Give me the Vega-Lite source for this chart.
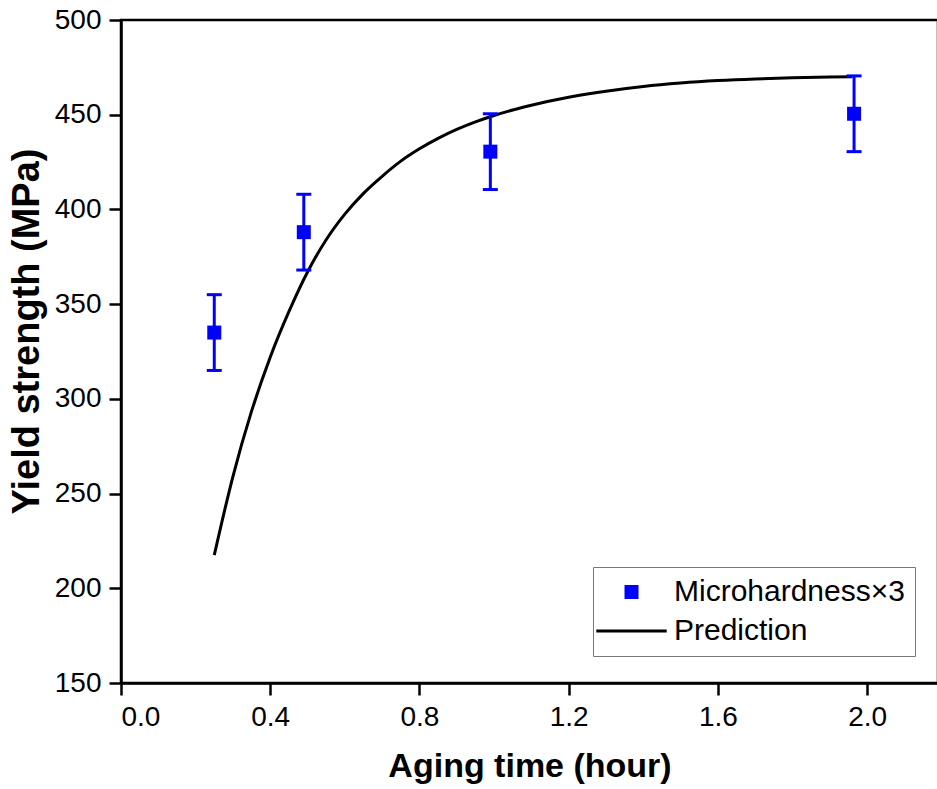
{
  "$schema": "https://vega.github.io/schema/vega-lite/v6.json",
  "autosize": {"type": "none"},
  "padding": {"left": 121, "top": 20, "right": 0, "bottom": 106},
  "width": 817,
  "height": 663,
  "background": "white",
  "config": {
    "view": {"stroke": "black", "strokeWidth": 2.5},
    "axis": {
      "grid": false,
      "labelFont": "Liberation Sans",
      "labelFontSize": 28,
      "labelColor": "black",
      "domainColor": "black",
      "domainWidth": 2.5,
      "tickColor": "black",
      "tickWidth": 2.5,
      "tickSize": 12,
      "labelPadding": 8,
      "titleFont": "Liberation Sans",
      "titleFontWeight": "bold",
      "titleColor": "black"
    },
    "legend": {
      "labelFont": "Liberation Sans",
      "labelFontSize": 30,
      "labelColor": "black",
      "labelLimit": 500
    }
  },
  "datasets": {
    "pred": [
      {"x": 0.25, "y": 217.5, "series": "Prediction"},
      {"x": 0.30, "y": 259, "series": "Prediction"},
      {"x": 0.35, "y": 293.5, "series": "Prediction"},
      {"x": 0.40, "y": 322, "series": "Prediction"},
      {"x": 0.45, "y": 346, "series": "Prediction"},
      {"x": 0.50, "y": 367, "series": "Prediction"},
      {"x": 0.55, "y": 384, "series": "Prediction"},
      {"x": 0.60, "y": 397.5, "series": "Prediction"},
      {"x": 0.65, "y": 408.5, "series": "Prediction"},
      {"x": 0.70, "y": 417.5, "series": "Prediction"},
      {"x": 0.75, "y": 425.5, "series": "Prediction"},
      {"x": 0.80, "y": 432, "series": "Prediction"},
      {"x": 0.85, "y": 437.5, "series": "Prediction"},
      {"x": 0.90, "y": 442.2, "series": "Prediction"},
      {"x": 0.95, "y": 446.2, "series": "Prediction"},
      {"x": 1.00, "y": 449.6, "series": "Prediction"},
      {"x": 1.05, "y": 452.5, "series": "Prediction"},
      {"x": 1.10, "y": 455, "series": "Prediction"},
      {"x": 1.20, "y": 459.2, "series": "Prediction"},
      {"x": 1.30, "y": 462.4, "series": "Prediction"},
      {"x": 1.40, "y": 464.9, "series": "Prediction"},
      {"x": 1.50, "y": 466.7, "series": "Prediction"},
      {"x": 1.60, "y": 468.0, "series": "Prediction"},
      {"x": 1.70, "y": 468.9, "series": "Prediction"},
      {"x": 1.80, "y": 469.5, "series": "Prediction"},
      {"x": 1.90, "y": 469.9, "series": "Prediction"},
      {"x": 1.96, "y": 470.0, "series": "Prediction"}
    ],
    "meas": [
      {"x": 0.25, "y": 335, "lo": 315, "hi": 355, "series": "Microhardness×3"},
      {"x": 0.49, "y": 388, "lo": 368, "hi": 408, "series": "Microhardness×3"},
      {"x": 0.99, "y": 430.5, "lo": 410.5, "hi": 450.5, "series": "Microhardness×3"},
      {"x": 1.965, "y": 450.5, "lo": 430.5, "hi": 470.5, "series": "Microhardness×3"}
    ]
  },
  "encoding": {
    "x": {
      "field": "x",
      "type": "quantitative",
      "scale": {"domain": [0, 2.19], "nice": false, "zero": false},
      "axis": {"values": [0, 0.4, 0.8, 1.2, 1.6, 2.0], "format": ".1f", "title": "Aging time (hour)", "titleFontSize": 34, "titlePadding": 18}
    },
    "y": {
      "field": "y",
      "type": "quantitative",
      "scale": {"domain": [150, 500], "nice": false, "zero": false},
      "axis": {"values": [150, 200, 250, 300, 350, 400, 450, 500], "format": "d", "title": "Yield strength (MPa)", "titleFontSize": 38, "titlePadding": 8, "titleY": 311}
    }
  },
  "layer": [
    {
      "data": {"name": "pred"},
      "mark": {"type": "line", "strokeWidth": 3, "interpolate": "monotone"},
      "encoding": {
        "color": {
          "field": "series",
          "type": "nominal",
          "scale": {"domain": ["Microhardness×3", "Prediction"], "range": ["#0000ff", "#000000"]},
          "legend": {
            "title": null,
            "orient": "none",
            "legendX": 472,
            "legendY": 547,
            "strokeColor": "#777777",
            "fillColor": "white",
            "padding": 10,
            "rowPadding": 9,
            "labelOffset": 41,
            "symbolOpacity": 1,
            "encode": {
              "symbols": {
                "update": {
                  "x": {"value": 28.5},
                  "fill": {"scale": "color", "field": "value"},
                  "stroke": {"scale": "color", "field": "value"},
                  "strokeWidth": {"value": 3},
                  "size": {"value": 121},
                  "opacity": {"value": 1}
                }
              }
            }
          }
        }
      }
    },
    {
      "data": {"name": "meas"},
      "mark": {"type": "errorbar", "color": "#0000ff", "thickness": 3, "rule": {"opacity": 1}, "ticks": {"size": 15, "color": "#0000ff", "thickness": 3, "opacity": 1}},
      "encoding": {
        "y": {"field": "lo", "type": "quantitative"},
        "y2": {"field": "hi"}
      }
    },
    {
      "data": {"name": "meas"},
      "mark": {"type": "point", "filled": true, "size": 196, "opacity": 1},
      "encoding": {
        "color": {
          "field": "series",
          "type": "nominal",
          "scale": {"domain": ["Microhardness×3", "Prediction"], "range": ["#0000ff", "#000000"]}
        },
        "shape": {
          "field": "series",
          "type": "nominal",
          "scale": {"domain": ["Microhardness×3", "Prediction"], "range": ["square", "M-6.4,0H6.4"]}
        }
      }
    }
  ]
}
